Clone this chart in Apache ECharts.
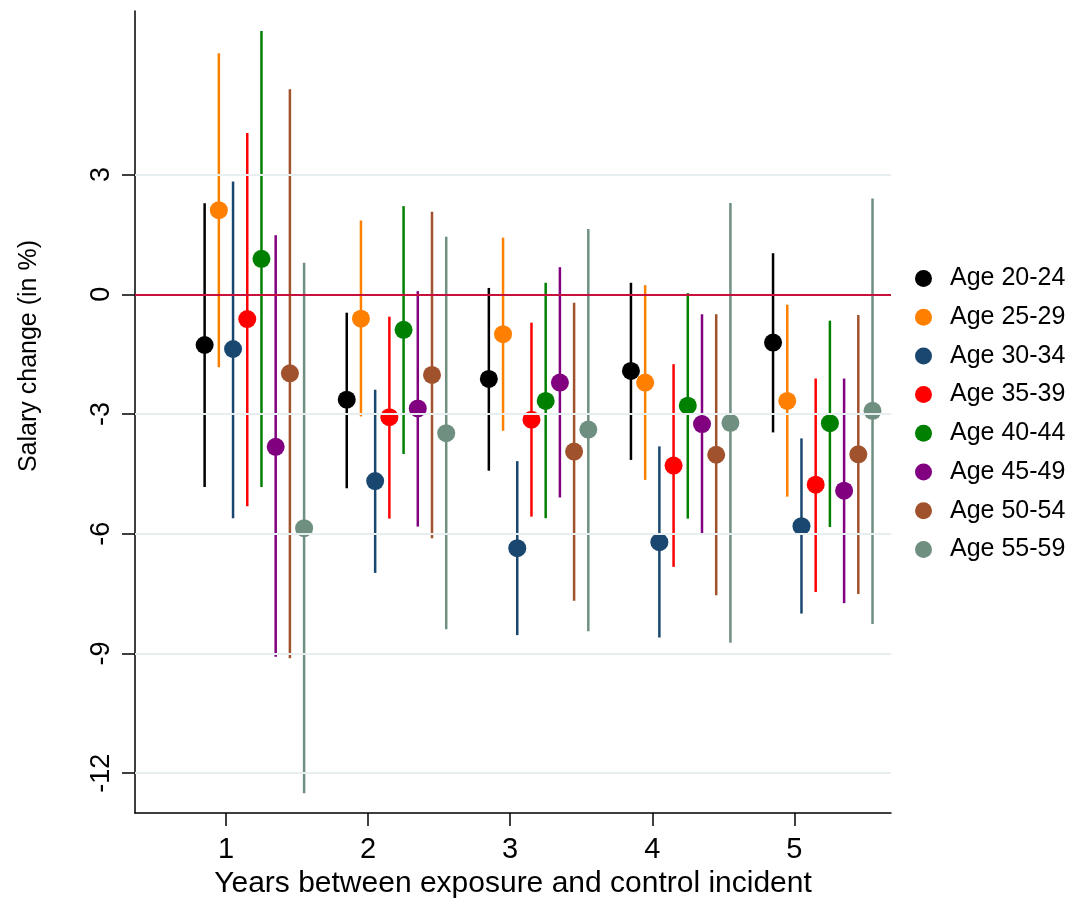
<!DOCTYPE html>
<html>
<head>
<meta charset="utf-8">
<script src="https://cdn.jsdelivr.net/npm/echarts@6/dist/echarts.min.js"></script>
<style>
  html, body { margin: 0; padding: 0; background: #fff; }
  #chart { width: 1074px; height: 904px; }
</style>
</head>
<body>
<div id="chart"></div>
<script>
// years after the incident (x categories)
const years = [1, 2, 3, 4, 5];
const ageGroups = ["Age 20-24", "Age 25-29", "Age 30-34", "Age 35-39", "Age 40-44", "Age 45-49", "Age 50-54", "Age 55-59"];
const colors = ["#000000", "#ff8000", "#1a476f", "#ff0000", "#008000", "#800080", "#a0522d", "#6f8f80"];
// horizontal dodge of each age group around the year
const dodge = [-0.15, -0.05, 0.05, 0.15, 0.25, 0.35, 0.45, 0.55];

// point estimates, one row per age group, one column per year
const estimates = [
  [-1.27, -2.64, -2.12, -1.92, -1.21],
  [2.11, -0.61, -1.0, -2.21, -2.67],
  [-1.37, -4.68, -6.36, -6.21, -5.81],
  [-0.62, -3.08, -3.14, -4.29, -4.77],
  [0.89, -0.89, -2.67, -2.79, -3.23],
  [-3.82, -2.86, -2.21, -3.25, -4.92],
  [-1.98, -2.02, -3.94, -4.02, -4.01],
  [-5.86, -3.48, -3.39, -3.22, -2.92]
];
const lowerCI = [
  [-4.83, -4.86, -4.42, -4.15, -3.46],
  [-1.83, -3.06, -3.42, -4.65, -5.07],
  [-5.61, -6.98, -8.54, -8.6, -8.0],
  [-5.31, -5.62, -5.57, -6.83, -7.46],
  [-4.83, -4.0, -5.61, -5.62, -5.83],
  [-9.08, -5.82, -5.09, -6.02, -7.74],
  [-9.12, -6.11, -7.68, -7.54, -7.51],
  [-12.5, -8.39, -8.44, -8.73, -8.26]
];
const upperCI = [
  [2.28, -0.46, 0.16, 0.29, 1.03],
  [6.04, 1.85, 1.42, 0.23, -0.26],
  [2.83, -2.39, -4.18, -3.81, -3.61],
  [4.04, -0.56, -0.71, -1.75, -2.11],
  [6.6, 2.21, 0.29, 0.03, -0.66],
  [1.48, 0.08, 0.68, -0.5, -2.11],
  [5.14, 2.07, -0.21, -0.5, -0.52],
  [0.79, 1.44, 1.64, 2.29, 2.4]
];

const yTicks = [3, 0, -3, -6, -9, -12];
const gridTicks = [3, -3, -6, -9, -12];

const FONT = "'Liberation Sans', Arial, sans-serif";

const chart = echarts.init(document.getElementById("chart"), null, { renderer: "canvas" });

function errorBar(params, api) {
  const top = api.coord([api.value(0), api.value(2)]);
  const bottom = api.coord([api.value(0), api.value(1)]);
  return {
    type: "line",
    shape: { x1: top[0], y1: top[1], x2: bottom[0], y2: bottom[1] },
    style: { stroke: api.visual("color"), lineWidth: 2.5 }
  };
}

const series = [
  {
    type: "line",
    data: [],
    silent: true,
    markLine: {
      symbol: "none",
      silent: true,
      label: { show: false },
      animation: false,
      data: gridTicks.map((v) => ({ yAxis: v, lineStyle: { color: "#e6eef0", width: 2, type: "solid" } }))
        .concat([{ yAxis: 0, lineStyle: { color: "#c8103c", width: 2, type: "solid" } }])
    }
  }
];

ageGroups.forEach((name, i) => {
  series.push({
    name: name,
    type: "custom",
    renderItem: errorBar,
    itemStyle: { color: colors[i] },
    encode: { x: 0, y: [1, 2] },
    data: years.map((yr, j) => [yr + dodge[i], lowerCI[i][j], upperCI[i][j]]),
    z: 3
  });
  series.push({
    name: name,
    type: "scatter",
    symbol: "circle",
    symbolSize: 18,
    itemStyle: { color: colors[i], opacity: 1 },
    data: years.map((yr, j) => [yr + dodge[i], estimates[i][j]]),
    z: 4
  });
});

chart.setOption({
  animation: false,
  backgroundColor: "#ffffff",
  textStyle: { fontFamily: FONT },
  grid: { left: 135, right: 183, top: 11, bottom: 89, containLabel: false },
  xAxis: {
    type: "value",
    min: 0.36,
    max: 5.68,
    name: "Years between exposure and control incident",
    nameLocation: "middle",
    nameGap: 53,
    nameTextStyle: { fontSize: 30, color: "#000", fontFamily: FONT },
    axisLine: { show: true, onZero: false, lineStyle: { color: "#000", width: 1.5 } },
    axisTick: { show: true, length: 13, customValues: years, lineStyle: { color: "#000", width: 1.5 } },
    axisLabel: { customValues: years, fontSize: 29, color: "#000", margin: 22, fontFamily: FONT },
    splitLine: { show: false }
  },
  yAxis: {
    type: "value",
    min: -13,
    max: 7.1,
    axisLine: { show: true, onZero: false, lineStyle: { color: "#000", width: 1.5 } },
    axisTick: { show: true, length: 13, customValues: yTicks, lineStyle: { color: "#000", width: 1.5 } },
    axisLabel: { customValues: yTicks, fontSize: 27, color: "#000", rotate: 90, margin: 20, fontFamily: FONT },
    splitLine: { show: false }
  },
  legend: {
    orient: "vertical",
    left: 910,
    top: 261,
    itemWidth: 17,
    itemHeight: 17,
    itemGap: 13.7,
    data: ageGroups.map((n) => ({ name: n, icon: "circle" })),
    textStyle: { fontSize: 25, color: "#000", fontFamily: FONT, padding: [0, 0, 0, 13] }
  },
  graphic: [
    {
      type: "text",
      left: 17,
      top: 240,
      rotation: Math.PI / 2,
      style: { text: "Salary change (in %)", fontSize: 25, fill: "#000", fontFamily: FONT }
    }
  ],
  series: series
});
</script>
</body>
</html>
